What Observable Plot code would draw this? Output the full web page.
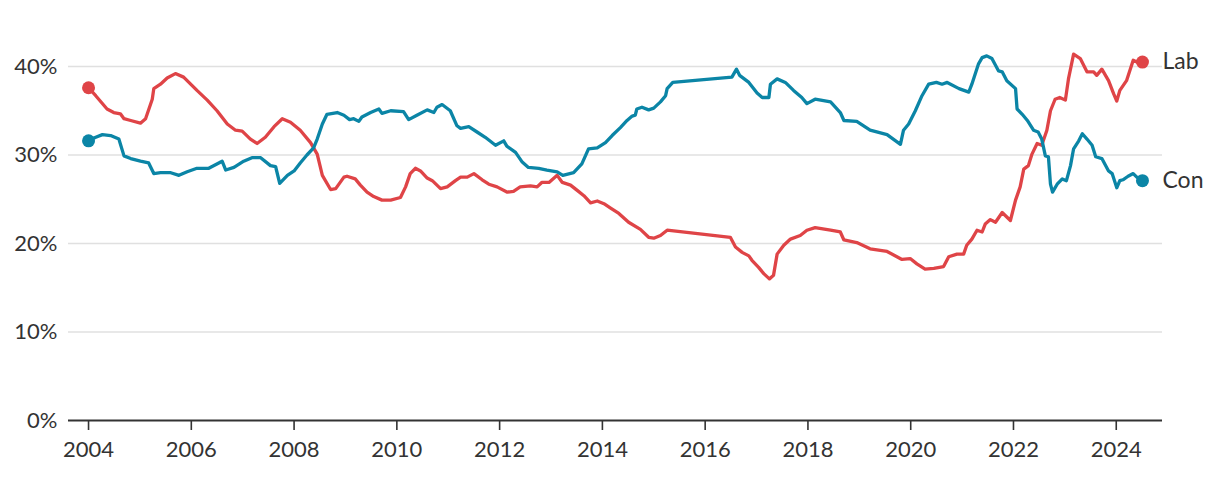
<!DOCTYPE html>
<html>
<head>
<meta charset="utf-8">
<script src="https://cdn.jsdelivr.net/npm/d3@7"></script>
<script src="https://cdn.jsdelivr.net/npm/@observablehq/plot@0.6"></script>
<style>
  html, body { margin: 0; padding: 0; background: #fff; }
  svg { display: block; }
</style>
</head>
<body>
<div id="chart"></div>
<script>
// Poll share (%) by decimal year
const labSeries = [
  [2004.0,37.6],[2004.14,36.7],[2004.36,35.2],[2004.49,34.8],[2004.62,34.65],[2004.69,34.1],[2004.82,33.9],
  [2005.01,33.6],[2005.11,34.1],[2005.24,36.3],[2005.27,37.5],[2005.40,38.0],[2005.53,38.7],[2005.69,39.2],[2005.85,38.8],
  [2006.11,37.3],[2006.31,36.2],[2006.50,35.0],[2006.70,33.5],[2006.86,32.8],[2006.99,32.7],
  [2007.15,31.8],[2007.28,31.3],[2007.44,32.0],[2007.61,33.2],[2007.77,34.1],[2007.93,33.7],
  [2008.12,32.8],[2008.32,31.4],[2008.45,30.1],[2008.55,27.7],[2008.71,26.1],[2008.81,26.2],[2008.97,27.5],
  [2009.03,27.6],[2009.19,27.3],[2009.29,26.6],[2009.42,25.8],[2009.55,25.3],[2009.71,24.9],[2009.88,24.9],
  [2010.07,25.2],[2010.17,26.4],[2010.26,27.9],[2010.36,28.5],[2010.46,28.2],[2010.59,27.4],[2010.69,27.1],[2010.85,26.2],[2010.98,26.4],
  [2011.14,27.1],[2011.24,27.5],[2011.37,27.5],[2011.50,27.9],[2011.66,27.2],[2011.79,26.7],[2011.95,26.4],
  [2012.15,25.8],[2012.27,25.9],[2012.40,26.4],[2012.60,26.5],[2012.73,26.4],[2012.82,26.9],[2012.96,26.9],
  [2013.12,27.7],[2013.22,26.9],[2013.38,26.6],[2013.51,26.0],[2013.64,25.4],[2013.77,24.6],[2013.90,24.8],
  [2014.03,24.5],[2014.16,24.0],[2014.32,23.4],[2014.51,22.4],[2014.74,21.6],[2014.90,20.7],
  [2015.0,20.6],[2015.13,20.9],[2015.26,21.5],
  [2016.49,20.7],[2016.59,19.6],[2016.72,19.0],[2016.85,18.6],[2016.91,18.1],
  [2017.04,17.3],[2017.14,16.6],[2017.25,16.0],[2017.33,16.4],[2017.40,18.8],[2017.53,19.8],[2017.66,20.5],[2017.85,20.9],[2017.98,21.5],
  [2018.14,21.8],[2018.44,21.5],[2018.63,21.3],[2018.70,20.4],[2018.95,20.1],
  [2019.21,19.4],[2019.54,19.1],[2019.83,18.2],[2019.99,18.3],
  [2020.12,17.7],[2020.28,17.1],[2020.45,17.2],[2020.64,17.4],[2020.74,18.5],[2020.90,18.8],
  [2021.03,18.8],[2021.09,19.8],[2021.19,20.5],[2021.29,21.5],[2021.39,21.3],[2021.45,22.2],[2021.55,22.7],[2021.65,22.4],[2021.78,23.5],[2021.94,22.6],
  [2022.04,24.9],[2022.13,26.4],[2022.20,28.4],[2022.29,28.8],[2022.36,30.1],[2022.46,31.3],[2022.55,31.1],[2022.65,32.8],[2022.72,35.0],[2022.81,36.3],[2022.90,36.5],
  [2023.01,36.2],[2023.07,38.6],[2023.17,41.4],[2023.30,40.9],[2023.43,39.4],[2023.56,39.4],[2023.62,39.0],[2023.72,39.7],[2023.85,38.4],[2023.95,36.9],
  [2024.01,36.1],[2024.07,37.3],[2024.20,38.4],[2024.33,40.7],[2024.40,40.5],[2024.51,40.5]
];
const conSeries = [
  [2004.0,31.6],[2004.14,32.0],[2004.27,32.3],[2004.43,32.2],[2004.59,31.8],[2004.69,29.9],[2004.82,29.6],
  [2005.01,29.3],[2005.17,29.1],[2005.27,27.9],[2005.40,28.0],[2005.60,28.0],[2005.76,27.7],[2005.92,28.1],
  [2006.11,28.5],[2006.34,28.5],[2006.60,29.3],[2006.67,28.3],[2006.83,28.6],
  [2007.02,29.3],[2007.18,29.7],[2007.35,29.7],[2007.54,28.8],[2007.64,28.7],[2007.72,26.8],[2007.87,27.7],
  [2008.0,28.2],[2008.12,29.1],[2008.25,30.0],[2008.38,30.8],[2008.45,31.8],[2008.55,33.5],[2008.64,34.6],[2008.84,34.8],[2008.97,34.5],
  [2009.08,34.0],[2009.16,34.1],[2009.26,33.8],[2009.32,34.3],[2009.49,34.8],[2009.65,35.2],[2009.71,34.7],[2009.88,35.0],
  [2010.13,34.9],[2010.23,34.0],[2010.39,34.5],[2010.59,35.1],[2010.72,34.8],[2010.78,35.4],[2010.88,35.7],
  [2011.04,35.0],[2011.17,33.3],[2011.24,33.0],[2011.40,33.2],[2011.56,32.6],[2011.72,32.0],[2011.92,31.1],
  [2012.08,31.6],[2012.14,31.0],[2012.31,30.3],[2012.44,29.2],[2012.56,28.6],[2012.76,28.5],[2012.92,28.3],
  [2013.12,28.1],[2013.23,27.7],[2013.44,28.0],[2013.60,29.0],[2013.73,30.7],[2013.90,30.8],
  [2014.06,31.4],[2014.19,32.2],[2014.35,33.1],[2014.48,33.9],[2014.58,34.4],[2014.64,34.5],[2014.67,35.2],[2014.77,35.4],[2014.90,35.1],
  [2015.0,35.3],[2015.13,36.0],[2015.23,36.7],[2015.26,37.5],[2015.37,38.2],
  [2016.52,38.8],[2016.61,39.7],[2016.67,39.0],[2016.85,38.2],
  [2017.01,37.0],[2017.11,36.5],[2017.24,36.5],[2017.27,38.0],[2017.40,38.6],[2017.56,38.2],[2017.72,37.3],[2017.88,36.5],[2017.98,35.8],
  [2018.14,36.3],[2018.44,36.0],[2018.63,34.8],[2018.70,33.9],[2018.95,33.8],
  [2019.21,32.8],[2019.54,32.3],[2019.80,31.2],[2019.86,32.8],[2019.96,33.5],
  [2020.09,35.0],[2020.22,36.7],[2020.35,38.0],[2020.50,38.2],[2020.61,38.0],[2020.71,38.2],[2020.94,37.5],
  [2021.13,37.1],[2021.19,38.0],[2021.32,40.3],[2021.39,41.0],[2021.48,41.2],[2021.58,40.9],[2021.71,39.5],[2021.78,39.4],[2021.87,38.4],
  [2022.04,37.5],[2022.07,35.2],[2022.17,34.6],[2022.27,33.9],[2022.39,32.8],[2022.48,32.6],[2022.55,31.8],[2022.62,29.9],[2022.68,29.8],[2022.72,26.7],[2022.76,25.8],[2022.85,26.7],[2022.95,27.3],
  [2023.03,27.1],[2023.11,28.8],[2023.17,30.7],[2023.27,31.6],[2023.34,32.4],[2023.43,31.8],[2023.53,31.1],[2023.60,29.8],[2023.72,29.6],[2023.85,28.2],[2023.92,27.9],
  [2024.01,26.3],[2024.07,27.1],[2024.13,27.2],[2024.23,27.6],[2024.33,27.9],[2024.40,27.5],[2024.51,27.1]
];
const parties = ["Lab", "Con"];
const partyColors = ["#df4447", "#0b85a6"];
const xTicks = [2004, 2006, 2008, 2010, 2012, 2014, 2016, 2018, 2020, 2022, 2024];
const yTicks = [0, 10, 20, 30, 40];

const rows = [
  ...labSeries.map(([t, v]) => ({party: "Lab", t, v})),
  ...conSeries.map(([t, v]) => ({party: "Con", t, v}))
];
const firsts = parties.map(p => rows.find(d => d.party === p));
const lasts = parties.map(p => rows.filter(d => d.party === p).at(-1));

const chart = Plot.plot({
  width: 1220,
  height: 480,
  marginTop: 66,
  marginBottom: 60,
  marginLeft: 68,
  marginRight: 58,
  style: {fontFamily: "Lato, 'Open Sans', sans-serif", fontSize: "22px", color: "#333", background: "#fff", overflow: "visible"},
  x: {domain: [2003.61, 2024.9], label: null},
  y: {domain: [0, 40], label: null},
  color: {domain: parties, range: partyColors},
  marks: [
    Plot.gridY(yTicks.filter(d => d > 0), {stroke: "#e0e0e0", strokeOpacity: 1, strokeWidth: 1.5}),
    Plot.axisY(yTicks, {tickSize: 0, tickPadding: 11, tickFormat: d => d + "%", fontSize: 22, fill: "#333", label: null}),
    Plot.axisX(xTicks, {tickSize: 10, tickPadding: 11, tickFormat: d => String(d), fontSize: 22, fill: "#333", stroke: "#333", strokeWidth: 1.6, label: null}),
    Plot.ruleY([0], {stroke: "#333", strokeWidth: 2.2}),
    Plot.lineY(rows, {x: "t", y: "v", z: "party", stroke: "party", strokeWidth: 3.3, strokeLinejoin: "round", strokeLinecap: "round"}),
    Plot.dot(firsts, {x: "t", y: "v", fill: "party", r: 6.5}),
    Plot.dot(lasts, {x: "t", y: "v", fill: "party", r: 6.5}),
    Plot.text(lasts, {x: "t", y: "v", text: "party", dx: 20, textAnchor: "start", fontSize: 23, fill: "#333"})
  ]
});
document.getElementById("chart").append(chart);
</script>
</body>
</html>
